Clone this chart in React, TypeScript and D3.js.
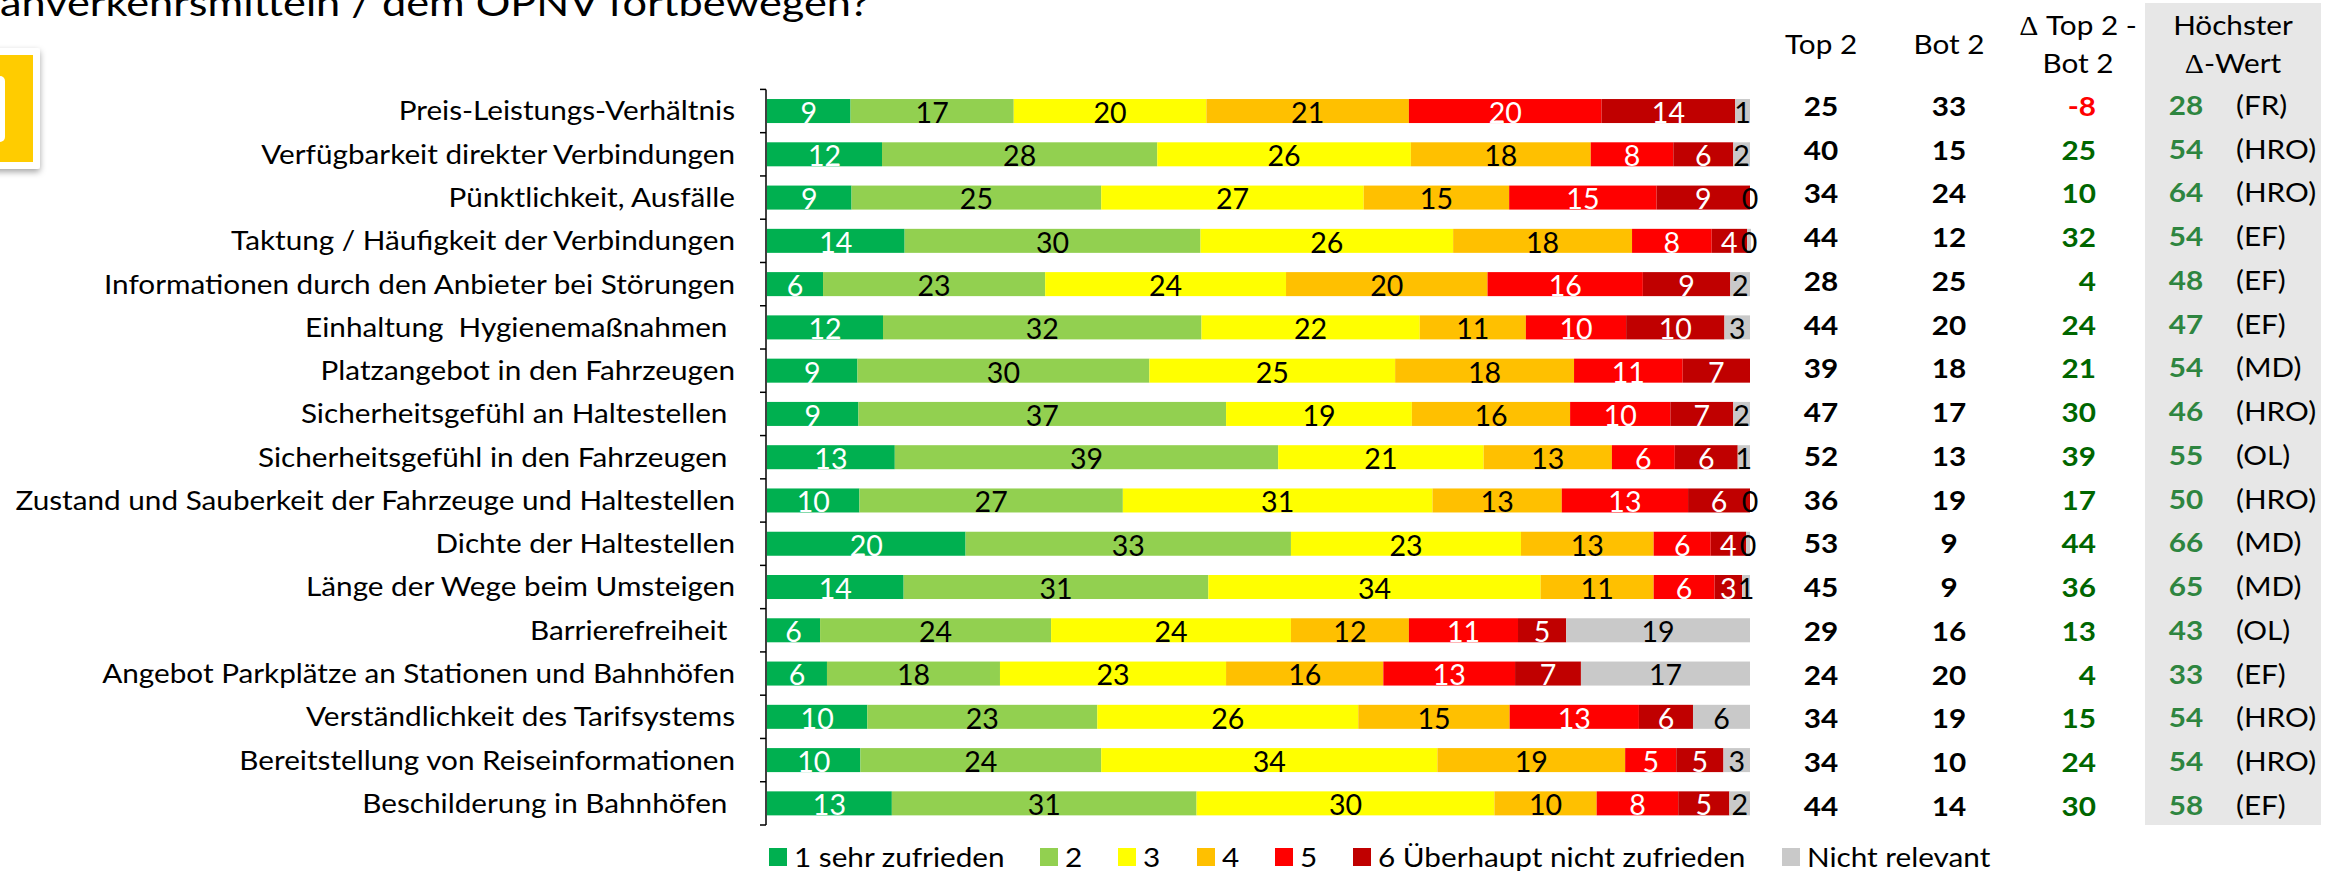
import { useEffect, useRef } from "react";
import * as d3 from "d3";

const WIDTH = 2336;
const HEIGHT = 871;
const FONT = "Lato, sans-serif";
// Lato is narrower than the stretched lettering of the slide
const STRETCH = 1.1;

const titleText = "ahverkehrsmitteln / dem ÖPNV fortbewegen?";

const rowLabels = [
    "Preis-Leistungs-Verhältnis",
    "Verfügbarkeit direkter Verbindungen",
    "Pünktlichkeit, Ausfälle",
    "Taktung / Häufigkeit der Verbindungen",
    "Informationen durch den Anbieter bei Störungen",
    "Einhaltung  Hygienemaßnahmen ",
    "Platzangebot in den Fahrzeugen",
    "Sicherheitsgefühl an Haltestellen ",
    "Sicherheitsgefühl in den Fahrzeugen ",
    "Zustand und Sauberkeit der Fahrzeuge und Haltestellen",
    "Dichte der Haltestellen",
    "Länge der Wege beim Umsteigen",
    "Barrierefreiheit ",
    "Angebot Parkplätze an Stationen und Bahnhöfen",
    "Verständlichkeit des Tarifsystems",
    "Bereitstellung von Reiseinformationen",
    "Beschilderung in Bahnhöfen ",
];

const legendLabels = [ "1 sehr zufrieden", "2", "3", "4", "5", "6 Überhaupt nicht zufrieden", "Nicht relevant" ];
const seriesColors = [ "#00B050", "#92D050", "#FFFF00", "#FFC000", "#FF0000", "#C00000", "#C9C9C9" ];
const labelColors = [ "#fff", "#000", "#000", "#000", "#fff", "#fff", "#000" ];

// bar widths (the printed numbers are rounded and do not always add to 100)
const shares = [
    [ 8.5, 16.6, 19.6, 20.6, 19.6, 13.6, 1.5 ],
    [ 11.7, 28.0, 25.8, 18.3, 8.4, 6.1, 1.7 ],
    [ 8.6, 25.4, 26.7, 14.8, 15.0, 9.5, 0 ],
    [ 14.0, 30.1, 25.7, 18.2, 8.1, 3.6, 0.4 ],
    [ 5.7, 22.6, 24.5, 20.5, 15.8, 8.9, 2.0 ],
    [ 11.8, 32.4, 22.2, 10.8, 10.2, 10.0, 2.6 ],
    [ 9.2, 29.7, 25.0, 18.2, 11.05, 6.85, 0 ],
    [ 9.3, 37.4, 18.9, 16.1, 10.2, 6.4, 1.7 ],
    [ 13.0, 39.0, 20.9, 13.05, 6.4, 6.4, 1.25 ],
    [ 9.4, 26.8, 31.5, 13.15, 12.85, 6.3, 0 ],
    [ 20.2, 33.1, 23.4, 13.5, 5.8, 3.6, 0.4 ],
    [ 13.9, 31.0, 33.8, 11.5, 6.2, 2.8, 0.8 ],
    [ 5.4, 23.5, 24.4, 12.0, 11.1, 4.9, 18.7 ],
    [ 6.1, 17.6, 23.0, 16.0, 13.4, 6.7, 17.2 ],
    [ 10.2, 23.4, 26.55, 15.4, 13.15, 5.5, 5.8 ],
    [ 9.5, 24.5, 34.2, 19.1, 5.2, 4.8, 2.7 ],
    [ 12.7, 31.0, 30.3, 10.4, 8.3, 5.2, 2.1 ],
];

// numbers printed on the bars, null where none is printed
const printed = [
    [ 9, 17, 20, 21, 20, 14, 1 ],
    [ 12, 28, 26, 18, 8, 6, 2 ],
    [ 9, 25, 27, 15, 15, 9, 0 ],
    [ 14, 30, 26, 18, 8, 4, 0 ],
    [ 6, 23, 24, 20, 16, 9, 2 ],
    [ 12, 32, 22, 11, 10, 10, 3 ],
    [ 9, 30, 25, 18, 11, 7, null ],
    [ 9, 37, 19, 16, 10, 7, 2 ],
    [ 13, 39, 21, 13, 6, 6, 1 ],
    [ 10, 27, 31, 13, 13, 6, 0 ],
    [ 20, 33, 23, 13, 6, 4, 0 ],
    [ 14, 31, 34, 11, 6, 3, 1 ],
    [ 6, 24, 24, 12, 11, 5, 19 ],
    [ 6, 18, 23, 16, 13, 7, 17 ],
    [ 10, 23, 26, 15, 13, 6, 6 ],
    [ 10, 24, 34, 19, 5, 5, 3 ],
    [ 13, 31, 30, 10, 8, 5, 2 ],
];

const top2 = [ 25, 40, 34, 44, 28, 44, 39, 47, 52, 36, 53, 45, 29, 24, 34, 34, 44 ];
const bot2 = [ 33, 15, 24, 12, 25, 20, 18, 17, 13, 19, 9, 9, 16, 20, 19, 10, 14 ];
const deltaTopBot = [ -8, 25, 10, 32, 4, 24, 21, 30, 39, 17, 44, 36, 13, 4, 15, 24, 30 ];
const maxDelta = [ 28, 54, 64, 54, 48, 47, 54, 46, 55, 50, 66, 65, 43, 33, 54, 54, 58 ];
const maxDeltaCity = [ "FR", "HRO", "HRO", "EF", "EF", "EF", "MD", "HRO", "OL", "HRO", "MD", "MD", "OL", "EF", "HRO", "HRO", "EF" ];

export default function App ()
{
    const svgRef = useRef<SVGSVGElement>( null );

    useEffect( () =>
    {
        if ( !svgRef.current ) return;
        const svg = d3.select( svgRef.current );
        svg.selectAll( "*" ).remove();

        const text = ( x: number, y: number, s: any, size = 27, anchor = "middle", fill = "#000", weight = 400, sx = STRETCH ) =>
            svg.append( "text" ).attr( "transform", `translate(${ x },${ y }) scale(${ sx },1)` )
                .attr( "text-anchor", anchor ).attr( "dominant-baseline", "central" )
                .attr( "fill", fill ).attr( "font-weight", weight ).style( "font-size", `${ size }px` ).style( "font-family", FONT )
                .style( "white-space", "pre" ).text( s );

        // header text starting with the thin serif delta of the slide
        const deltaText = ( x: number, y: number, rest: string ) =>
        {
            const t = text( x, y, null );
            t.append( "tspan" ).style( "font-family", "'Liberation Serif', serif" ).text( "Δ" );
            t.append( "tspan" ).text( rest );
        };

        const x = d3.scaleLinear().domain( [ 0, 100 ] ).range( [ 767, 1750 ] );
        const y = d3.scaleBand<number>().domain( d3.range( rowLabels.length ) ).range( [ 89.4, 825 ] ).paddingInner( 0.445 ).paddingOuter( 0.2225 );

        // Title, cut off by the top of the picture
        svg.append( "text" ).attr( "transform", "translate(0,16) scale(1.17,1)" ).attr( "fill", "#000" )
            .style( "font-size", "37px" ).style( "font-family", FONT ).text( titleText );

        // Yellow badge, mostly off the left edge
        const defs = svg.append( "defs" );
        const shadow = defs.append( "filter" ).attr( "id", "badge-shadow" ).attr( "x", "-50%" ).attr( "y", "-20%" ).attr( "width", "200%" ).attr( "height", "140%" );
        shadow.append( "feDropShadow" ).attr( "dx", 0 ).attr( "dy", 3 ).attr( "stdDeviation", 3 ).attr( "flood-color", "#000" ).attr( "flood-opacity", 0.35 );
        svg.append( "rect" ).attr( "x", -40 ).attr( "y", 48 ).attr( "width", 80 ).attr( "height", 121 ).attr( "rx", 3 ).attr( "fill", "#fff" ).attr( "filter", "url(#badge-shadow)" );
        svg.append( "rect" ).attr( "x", -40 ).attr( "y", 55 ).attr( "width", 73 ).attr( "height", 107 ).attr( "fill", "#FFCC00" );
        svg.append( "rect" ).attr( "x", -20 ).attr( "y", 76 ).attr( "width", 25 ).attr( "height", 66 ).attr( "rx", 5 ).attr( "fill", "#fff" );

        // Panel behind the last column
        svg.append( "rect" ).attr( "x", 2145 ).attr( "y", 3 ).attr( "width", 176 ).attr( "height", 822 ).attr( "fill", "#E7E7E7" );

        // Stacked bars
        const table = shares.map( ( row ) => Object.fromEntries( row.map( ( v, i ) => [ i, v ] ) ) );
        const stacked = d3.stack<any, number>().keys( d3.range( seriesColors.length ) as any )( table as any );

        stacked.forEach( ( layer, si ) =>
        {
            const g = svg.append( "g" );
            g.selectAll( "rect" ).data( layer ).join( "rect" )
                .attr( "x", ( d ) => x( d[ 0 ] ) ).attr( "width", ( d ) => x( d[ 1 ] ) - x( d[ 0 ] ) )
                .attr( "y", ( _, i ) => y( i )! ).attr( "height", y.bandwidth() )
                .attr( "fill", seriesColors[ si ] );
        } );

        // Numbers on the bars, drawn after all bars so the ones at the end stay on top
        stacked.forEach( ( layer, si ) =>
        {
            layer.forEach( ( d, i ) =>
            {
                const v = printed[ i ][ si ];
                if ( v === null ) return;
                text( x( ( d[ 0 ] + d[ 1 ] ) / 2 ), y( i )! + y.bandwidth() / 2 + 1, v, 28, "middle", labelColors[ si ], 400, 1.02 );
            } );
        } );

        // Category axis: line with ticks between the bars
        const axis = svg.append( "g" ).attr( "stroke", "#000" ).attr( "stroke-width", 1.5 );
        const [ y0, y1 ] = y.range();
        axis.append( "line" ).attr( "x1", 766 ).attr( "x2", 766 ).attr( "y1", y0 ).attr( "y2", y1 );
        axis.selectAll( ".tick" ).data( d3.range( rowLabels.length + 1 ) ).join( "line" ).attr( "class", "tick" )
            .attr( "x1", 760 ).attr( "x2", 766 )
            .attr( "y1", ( i ) => y0 + i * y.step() ).attr( "y2", ( i ) => y0 + i * y.step() );

        rowLabels.forEach( ( label, i ) => text( 735, y( i )! + y.bandwidth() / 2 - 1, label, 27, "end" ) );

        // Right-hand columns
        const rows = d3.scalePoint<number>().domain( d3.range( rowLabels.length ) ).range( [ 105.5, 805.5 ] );
        text( 1821, 44, "Top 2" );
        text( 1949, 44, "Bot 2" );
        deltaText( 2078, 25, " Top 2 -" );
        text( 2078, 63, "Bot 2" );
        text( 2233, 25, "Höchster" );
        deltaText( 2233, 63, "-Wert" );

        rowLabels.forEach( ( _, i ) =>
        {
            const ry = rows( i )!;
            text( 1821, ry, top2[ i ], 27, "middle", "#000", 700 );
            text( 1949, ry, bot2[ i ], 27, "middle", "#000", 700 );
            text( 2096, ry, deltaTopBot[ i ], 27, "end", deltaTopBot[ i ] < 0 ? "#FF0000" : "#006600", 700 );
            text( 2186, ry - 1, maxDelta[ i ], 27, "middle", "#2E8540", 700 );
            text( 2236, ry - 1, `(${ maxDeltaCity[ i ] })`, 27, "start" );
        } );

        // Legend
        const legendX = [ 769, 1040, 1118, 1197, 1275, 1353, 1782 ];
        legendLabels.forEach( ( label, i ) =>
        {
            svg.append( "rect" ).attr( "x", legendX[ i ] ).attr( "y", 848 ).attr( "width", 18 ).attr( "height", 18 ).attr( "fill", seriesColors[ i ] );
            text( legendX[ i ] + 25, 857, label, 27, "start" );
        } );
    }, [] );

    return <svg ref={ svgRef } width={ WIDTH } height={ HEIGHT } style={ { position: "absolute", left: 0, top: 0, background: "#fff" } } />;
}
